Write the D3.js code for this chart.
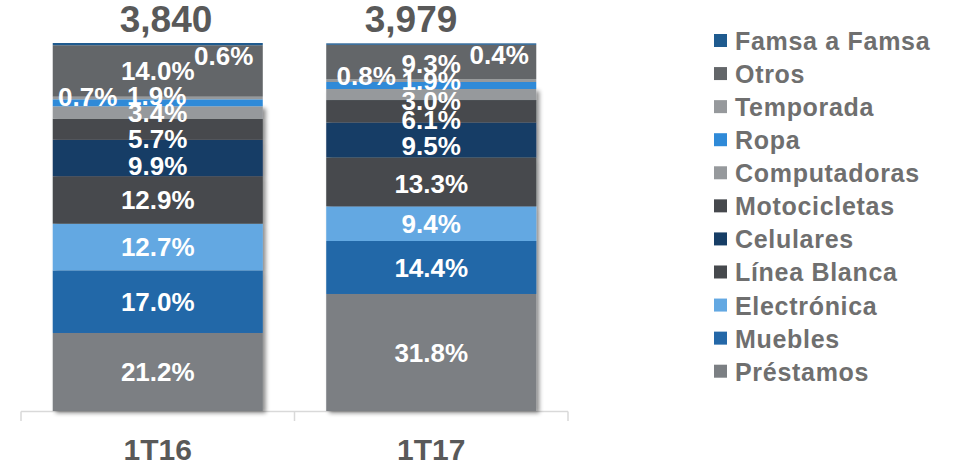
<!DOCTYPE html>
<html>
<head>
<meta charset="utf-8">
<script src="https://cdn.jsdelivr.net/npm/d3@7"></script>
<style>
  body { margin: 0; background: #fff; }
  svg { display: block; font-family: "Liberation Sans", Arial, sans-serif; font-weight: bold; }
</style>
</head>
<body>
<svg></svg>
<script>
const categories = ["1T16", "1T17"];
const totals = ["3,840", "3,979"];

// stacked bottom -> top
const seriesNames = [
  "Préstamos", "Muebles", "Electrónica", "Línea Blanca", "Celulares",
  "Motocicletas", "Computadoras", "Ropa", "Temporada", "Otros", "Famsa a Famsa",
];
const values1T16 = [21.2, 17.0, 12.7, 12.9, 9.9, 5.7, 3.4, 1.9, 0.7, 14.0, 0.6];
const values1T17 = [31.8, 14.4, 9.4, 13.3, 9.5, 6.1, 3.0, 1.9, 0.8, 9.3, 0.4];

const colors = [
  "#7b7f83", "#2468a8", "#63a8e2", "#46494d", "#173e66",
  "#46494d", "#96999c", "#2f8ad8", "#96999c", "#636669", "#1f5b8f",
];

const width = 959;
const height = 465;

// hand nudges of the small labels, like the original slide
const nudge = {
  "1T16": { "Famsa a Famsa": [66, 12], "Temporada": [-70, -1], "Ropa": [-1, -7],
            "Motocicletas": [0, 9], "Celulares": [0, 8] },
  "1T17": { "Famsa a Famsa": [68, 11], "Otros": [0, 2], "Temporada": [-65, -5], "Ropa": [0, -5],
            "Computadoras": [0, 6], "Motocicletas": [0, 8], "Celulares": [0, 6], "Línea Blanca": [0, 2] },
};
const totalX = [166, 411];

const svg = d3.select("svg").attr("width", width).attr("height", height);

const table = categories.map((c, i) => {
  const row = { cat: c };
  const vals = i === 0 ? values1T16 : values1T17;
  seriesNames.forEach((s, j) => (row[s] = vals[j]));
  return row;
});

const stacked = d3.stack().keys(seriesNames)(table);

const xScale = d3.scaleBand().domain(categories).range([21, 568]);
const barW = xScale.bandwidth() * 0.768;
const barX = (c) => xScale(c) + (xScale.bandwidth() - barW) / 2;

const yScale = d3.scaleLinear().domain([0, 100]).range([411, 43]);

const color = d3.scaleOrdinal().domain(seriesNames).range(colors);

const defs = svg.append("defs");
defs.append("filter")
  .attr("id", "shadow")
  .attr("x", "-10%").attr("y", "-10%")
  .attr("width", "130%").attr("height", "130%")
  .append("feDropShadow")
  .attr("dx", 3).attr("dy", 2)
  .attr("stdDeviation", 2.2)
  .attr("flood-color", "#000")
  .attr("flood-opacity", 0.45);

// axis line with tick marks at the band edges
const axisG = svg.append("g").attr("id", "x-axis");
axisG.append("line")
  .attr("x1", xScale.range()[0]).attr("x2", xScale.range()[1])
  .attr("y1", 411.5).attr("y2", 411.5)
  .attr("stroke", "#d9d9d9").attr("stroke-width", 1.5);
const edges = categories.map((c) => xScale(c)).concat([xScale.range()[1]]);
axisG.selectAll(".tick")
  .data(edges)
  .enter()
  .append("line")
  .attr("x1", (d) => d).attr("x2", (d) => d)
  .attr("y1", 411.5).attr("y2", 421)
  .attr("stroke", "#d9d9d9").attr("stroke-width", 1.5);

const shadowKeys = seriesNames.slice(0, 7);

const drawSeries = (parent, layers) => {
  parent.selectAll("g.layer")
    .data(layers)
    .enter()
    .append("g")
    .attr("class", "layer")
    .attr("fill", (d) => color(d.key))
    .selectAll("rect")
    .data((d) => d)
    .enter()
    .append("rect")
    .attr("x", (d) => barX(d.data.cat))
    .attr("width", barW)
    .attr("y", (d) => yScale(d[1]))
    .attr("height", (d) => yScale(d[0]) - yScale(d[1]));
};

drawSeries(svg.append("g").attr("filter", "url(#shadow)"),
  stacked.filter((l) => shadowKeys.includes(l.key)));
drawSeries(svg.append("g"),
  stacked.filter((l) => !shadowKeys.includes(l.key)));

// segment labels
stacked.forEach((layer) => {
  layer.forEach((d) => {
    const cat = d.data.cat;
    const n = (nudge[cat] && nudge[cat][layer.key]) || [0, 0];
    const cx = barX(cat) + barW / 2 + n[0];
    const cy = (yScale(d[0]) + yScale(d[1])) / 2 + n[1];
    svg.append("text")
      .attr("x", cx)
      .attr("y", cy + 9.3)
      .attr("text-anchor", "middle")
      .attr("fill", "#fff")
      .attr("font-size", "26px")
      .text(d.data[layer.key].toFixed(1) + "%");
  });
});

// totals
svg.selectAll(".total")
  .data(totals)
  .enter()
  .append("text")
  .attr("class", "total")
  .attr("x", (d, i) => totalX[i])
  .attr("y", 31.5)
  .attr("text-anchor", "middle")
  .attr("fill", "#595959")
  .attr("font-size", "37px")
  .text((d) => d);

// category labels
svg.selectAll(".cat")
  .data(categories)
  .enter()
  .append("text")
  .attr("class", "cat")
  .attr("x", (d) => xScale(d) + xScale.bandwidth() / 2)
  .attr("y", 459.5)
  .attr("text-anchor", "middle")
  .attr("fill", "#595959")
  .attr("font-size", "30px")
  .text((d) => d);

// legend, top -> bottom
const legendItems = seriesNames.slice().reverse();
const legend = svg.append("g").attr("id", "legend");
const rows = legend.selectAll("g")
  .data(legendItems)
  .enter()
  .append("g")
  .attr("transform", (d, i) => `translate(714, ${41 + i * 33.07})`);
rows.append("rect")
  .attr("x", 0).attr("y", -7)
  .attr("width", 13).attr("height", 13)
  .attr("fill", (d) => color(d));
rows.append("text")
  .attr("x", 21)
  .attr("y", 9)
  .attr("fill", "#6f6f6f")
  .attr("font-size", "25px")
  .attr("letter-spacing", "0.7px")
  .text((d) => d);
</script>
</body>
</html>
